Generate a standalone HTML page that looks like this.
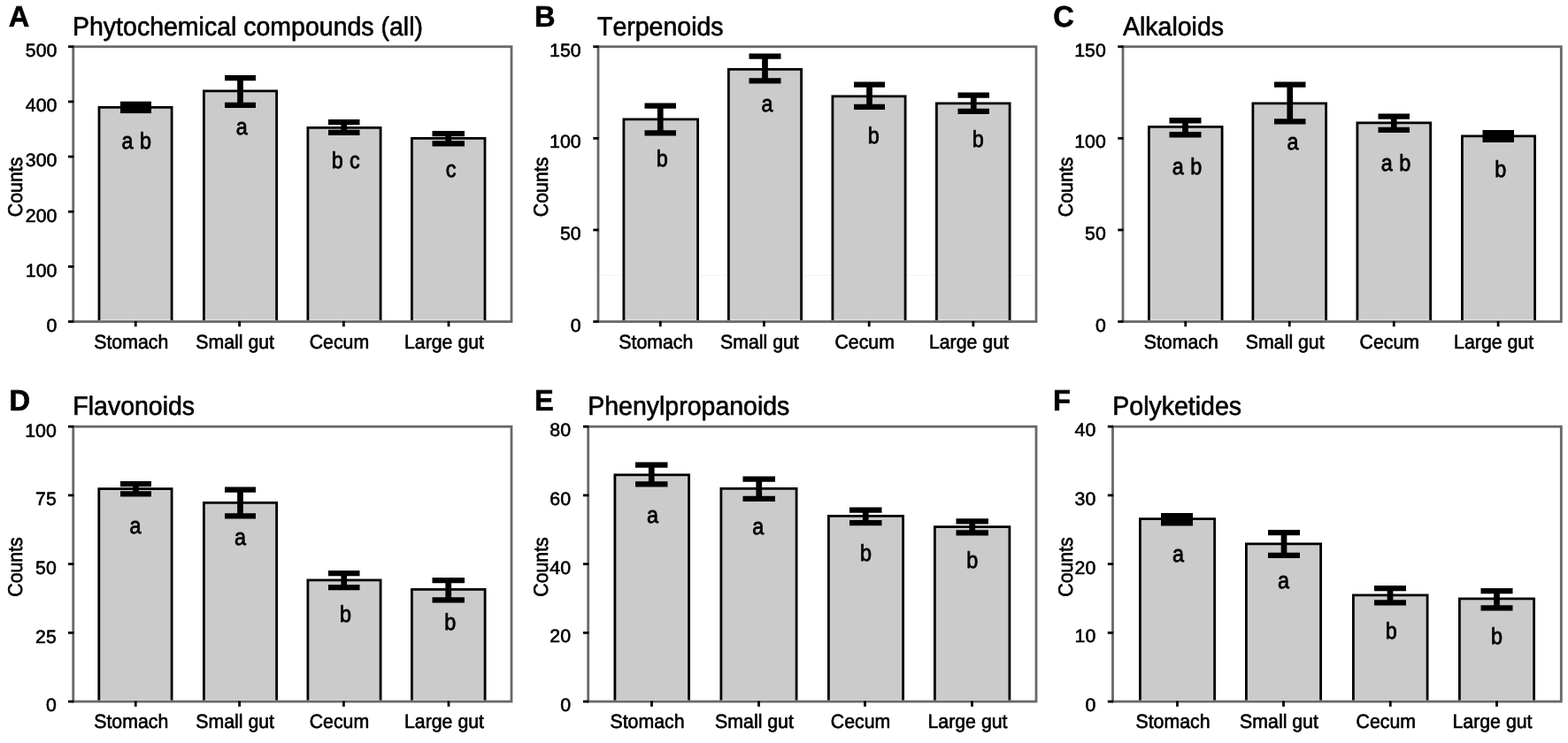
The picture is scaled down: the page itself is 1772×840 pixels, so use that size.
<!DOCTYPE html>
<html lang="en">
<head>
<meta charset="utf-8">
<title>Figure</title>
<style>
html, body { margin: 0; padding: 0; background: #ffffff; }
body { width: 1772px; height: 840px; overflow: hidden; }
svg { display: block; font-family: "Liberation Sans", sans-serif; }
.fill { fill: #cbcbcb; }
.bar { fill: none; stroke: #000; stroke-width: 2.8; stroke-linejoin: miter; }
.frame { fill: none; stroke: #696969; stroke-width: 2.8; }
.tick { stroke: #000; stroke-width: 2.8; }
.err { fill: #000; }
text { fill: #000; stroke: #000; stroke-width: 0.6px; stroke-linejoin: round; font-kerning: none; text-rendering: geometricPrecision; }
.yt { font-size: 21.3px; text-anchor: end; }
.xt { font-size: 21.3px; text-anchor: middle; }
.cnt { font-size: 21.3px; text-anchor: middle; }
.sig { font-size: 26px; text-anchor: middle; word-spacing: 1px; stroke-width: 0.8px; }
.ttl { font-size: 28.5px; }
.ltr { font-size: 32.6px; font-weight: bold; }
</style>
</head>
<body>
<svg width="1772" height="840" viewBox="0 0 1772 840" role="img">
<rect x="-10" y="-10" width="1792" height="860" fill="#ffffff"/>
<g>
<rect class="fill" x="112" y="121.4" width="82.1" height="240.1"/>
<path class="bar" d="M112 362.3V121.4H194.1V362.3"/>
<rect class="fill" x="230.4" y="102.9" width="82.2" height="258.6"/>
<path class="bar" d="M230.4 362.3V102.9H312.6V362.3"/>
<rect class="fill" x="347.9" y="144.4" width="82.2" height="217.1"/>
<path class="bar" d="M347.9 362.3V144.4H430.1V362.3"/>
<rect class="fill" x="465.4" y="156.4" width="82.6" height="205.1"/>
<path class="bar" d="M465.4 362.3V156.4H548V362.3"/>
<rect class="frame" x="82.75" y="52.75" width="495.25" height="310.85"/>
<line class="tick" x1="77.05" y1="363.6" x2="83.35" y2="363.6"/>
<text class="yt" transform="translate(64.35 374.9) scale(1 0.98)">0</text>
<line class="tick" x1="77.05" y1="301.43" x2="83.35" y2="301.43"/>
<text class="yt" transform="translate(64.35 312.73) scale(1 0.98)">100</text>
<line class="tick" x1="77.05" y1="239.26" x2="83.35" y2="239.26"/>
<text class="yt" transform="translate(64.35 250.56) scale(1 0.98)">200</text>
<line class="tick" x1="77.05" y1="177.09" x2="83.35" y2="177.09"/>
<text class="yt" transform="translate(64.35 188.39) scale(1 0.98)">300</text>
<line class="tick" x1="77.05" y1="114.92" x2="83.35" y2="114.92"/>
<text class="yt" transform="translate(64.35 126.22) scale(1 0.98)">400</text>
<line class="tick" x1="77.05" y1="52.75" x2="83.35" y2="52.75"/>
<text class="yt" transform="translate(64.35 64.05) scale(1 0.98)">500</text>
<line class="tick" x1="153.25" y1="363" x2="153.25" y2="369.3"/>
<text class="xt" transform="translate(148.25 393.6) scale(1 1.04)">Stomach</text>
<line class="tick" x1="270.6" y1="363" x2="270.6" y2="369.3"/>
<text class="xt" transform="translate(265.6 393.6) scale(1 1.04)">Small gut</text>
<line class="tick" x1="388.4" y1="363" x2="388.4" y2="369.3"/>
<text class="xt" transform="translate(383.4 393.6) scale(1 1.04)">Cecum</text>
<line class="tick" x1="507" y1="363" x2="507" y2="369.3"/>
<text class="xt" transform="translate(502 393.6) scale(1 1.04)">Large gut</text>
<rect class="err" x="136" y="114.7" width="35" height="13.4"/>
<path class="err" d="M254 85H289V91.3H274.85V115.7H289V122H254V115.7H268.15V91.3H254Z"/>
<path class="err" d="M371 135H406.5V141.3H392.1V146.7H406.5V153H371V146.7H385.4V141.3H371Z"/>
<path class="err" d="M488.5 148H525V154.3H510.1V159.2H525V165.5H488.5V159.2H503.4V154.3H488.5Z"/>
<text class="sig" transform="translate(154.2 168.1) scale(0.9 1.0)">a b</text>
<text class="sig" transform="translate(273.2 152.4) scale(0.9 1.0)">a</text>
<text class="sig" transform="translate(390.7 190) scale(0.9 1.0)">b c</text>
<text class="sig" transform="translate(509.7 200) scale(0.9 1.0)">c</text>
<text class="cnt" transform="translate(25 211.4) rotate(-90) scale(1 1.07)">Counts</text>
<text class="ttl" transform="translate(82 39.6) scale(1 1.04)">Phytochemical compounds (all)</text>
<text class="ltr" transform="translate(9.7 30.1) scale(1 1.02)">A</text>
</g>
<g>
<line x1="679" y1="311.3" x2="1168" y2="311.3" stroke="#f4f4f4" stroke-width="1.2"/>
<rect class="fill" x="704.9" y="134.9" width="83.7" height="226.6"/>
<path class="bar" d="M704.9 362.3V134.9H788.6V362.3"/>
<rect class="fill" x="823.4" y="78.4" width="82.2" height="283.1"/>
<path class="bar" d="M823.4 362.3V78.4H905.6V362.3"/>
<rect class="fill" x="940.9" y="108.9" width="82.2" height="252.6"/>
<path class="bar" d="M940.9 362.3V108.9H1023.1V362.3"/>
<rect class="fill" x="1058.4" y="116.9" width="82.7" height="244.6"/>
<path class="bar" d="M1058.4 362.3V116.9H1141.1V362.3"/>
<rect class="frame" x="676" y="52.75" width="495" height="310.85"/>
<line class="tick" x1="670.3" y1="363.6" x2="676.6" y2="363.6"/>
<text class="yt" transform="translate(656.6 374.5) scale(1 0.98)">0</text>
<line class="tick" x1="670.3" y1="259.98" x2="676.6" y2="259.98"/>
<text class="yt" transform="translate(656.6 271.18) scale(1 0.98)">50</text>
<line class="tick" x1="670.3" y1="156.37" x2="676.6" y2="156.37"/>
<text class="yt" transform="translate(656.6 166.57) scale(1 0.98)">100</text>
<line class="tick" x1="670.3" y1="52.75" x2="676.6" y2="52.75"/>
<text class="yt" transform="translate(656.6 63.55) scale(1 0.98)">150</text>
<line class="tick" x1="746.3" y1="363" x2="746.3" y2="369.3"/>
<text class="xt" transform="translate(741.3 393.6) scale(1 1.04)">Stomach</text>
<line class="tick" x1="863.4" y1="363" x2="863.4" y2="369.3"/>
<text class="xt" transform="translate(858.4 393.6) scale(1 1.04)">Small gut</text>
<line class="tick" x1="982.2" y1="363" x2="982.2" y2="369.3"/>
<text class="xt" transform="translate(977.2 393.6) scale(1 1.04)">Cecum</text>
<line class="tick" x1="1099.9" y1="363" x2="1099.9" y2="369.3"/>
<text class="xt" transform="translate(1094.9 393.6) scale(1 1.04)">Large gut</text>
<path class="err" d="M728.5 116.5H764V122.8H749.6V147.2H764V153.5H728.5V147.2H742.9V122.8H728.5Z"/>
<path class="err" d="M846.5 60.5H882.5V66.8H867.85V88.2H882.5V94.5H846.5V88.2H861.15V66.8H846.5Z"/>
<path class="err" d="M965 92.5H1000V98.8H985.85V117.7H1000V124H965V117.7H979.15V98.8H965Z"/>
<path class="err" d="M1082.5 104.5H1118V110.8H1103.6V122.7H1118V129H1082.5V122.7H1096.9V110.8H1082.5Z"/>
<text class="sig" transform="translate(748.2 188) scale(0.9 1.0)">b</text>
<text class="sig" transform="translate(867 126) scale(0.9 1.0)">a</text>
<text class="sig" transform="translate(987.2 162) scale(0.9 1.0)">b</text>
<text class="sig" transform="translate(1105.2 166) scale(0.9 1.0)">b</text>
<text class="cnt" transform="translate(618.5 211.4) rotate(-90) scale(1 1.07)">Counts</text>
<text class="ttl" transform="translate(675 39.6) scale(1 1.04)">Terpenoids</text>
<text class="ltr" transform="translate(604 29.6) scale(1 1.02)">B</text>
</g>
<g>
<rect class="fill" x="1298.4" y="143.4" width="82.7" height="218.1"/>
<path class="bar" d="M1298.4 362.3V143.4H1381.1V362.3"/>
<rect class="fill" x="1415.9" y="116.9" width="82.7" height="244.6"/>
<path class="bar" d="M1415.9 362.3V116.9H1498.6V362.3"/>
<rect class="fill" x="1533.9" y="138.9" width="82.7" height="222.6"/>
<path class="bar" d="M1533.9 362.3V138.9H1616.6V362.3"/>
<rect class="fill" x="1652.4" y="153.9" width="82.2" height="207.6"/>
<path class="bar" d="M1652.4 362.3V153.9H1734.6V362.3"/>
<rect class="frame" x="1269" y="52.75" width="495.3" height="310.85"/>
<line class="tick" x1="1263.3" y1="363.6" x2="1269.6" y2="363.6"/>
<text class="yt" transform="translate(1249.8 374.5) scale(1 0.98)">0</text>
<line class="tick" x1="1263.3" y1="259.98" x2="1269.6" y2="259.98"/>
<text class="yt" transform="translate(1249.8 271.18) scale(1 0.98)">50</text>
<line class="tick" x1="1263.3" y1="156.37" x2="1269.6" y2="156.37"/>
<text class="yt" transform="translate(1249.8 166.57) scale(1 0.98)">100</text>
<line class="tick" x1="1263.3" y1="52.75" x2="1269.6" y2="52.75"/>
<text class="yt" transform="translate(1249.8 63.55) scale(1 0.98)">150</text>
<line class="tick" x1="1339.75" y1="363" x2="1339.75" y2="369.3"/>
<text class="xt" transform="translate(1334.75 393.6) scale(1 1.04)">Stomach</text>
<line class="tick" x1="1457.25" y1="363" x2="1457.25" y2="369.3"/>
<text class="xt" transform="translate(1452.25 393.6) scale(1 1.04)">Small gut</text>
<line class="tick" x1="1575.25" y1="363" x2="1575.25" y2="369.3"/>
<text class="xt" transform="translate(1570.25 393.6) scale(1 1.04)">Cecum</text>
<line class="tick" x1="1693.1" y1="363" x2="1693.1" y2="369.3"/>
<text class="xt" transform="translate(1688.1 393.6) scale(1 1.04)">Large gut</text>
<path class="err" d="M1321.5 133.1H1357.5V139.4H1342.85V149.1H1357.5V155.4H1321.5V149.1H1336.15V139.4H1321.5Z"/>
<path class="err" d="M1440 92.5H1475.5V98.8H1461.1V134.2H1475.5V140.5H1440V134.2H1454.4V98.8H1440Z"/>
<path class="err" d="M1557.5 128.5H1593V134.8H1578.6V143.7H1593V150H1557.5V143.7H1571.9V134.8H1557.5Z"/>
<rect class="err" x="1675.5" y="147" width="35.5" height="14"/>
<text class="sig" transform="translate(1341.5 196.5) scale(0.9 1.0)">a b</text>
<text class="sig" transform="translate(1461 169) scale(0.9 1.0)">a</text>
<text class="sig" transform="translate(1577.5 192.5) scale(0.9 1.0)">a b</text>
<text class="sig" transform="translate(1695.7 200) scale(0.9 1.0)">b</text>
<text class="cnt" transform="translate(1212 211.4) rotate(-90) scale(1 1.07)">Counts</text>
<text class="ttl" transform="translate(1269 39.6) scale(1 1.04)">Alkaloids</text>
<text class="ltr" transform="translate(1190.15 29.6) scale(1 1.02)">C</text>
</g>
<g>
<rect class="fill" x="111.8" y="552.6" width="82.3" height="238.4"/>
<path class="bar" d="M111.8 791.8V552.6H194.1V791.8"/>
<rect class="fill" x="230.4" y="568.4" width="82.2" height="222.6"/>
<path class="bar" d="M230.4 791.8V568.4H312.6V791.8"/>
<rect class="fill" x="347.9" y="655.9" width="82.2" height="135.1"/>
<path class="bar" d="M347.9 791.8V655.9H430.1V791.8"/>
<rect class="fill" x="465.4" y="666.4" width="82.7" height="124.6"/>
<path class="bar" d="M465.4 791.8V666.4H548.1V791.8"/>
<rect class="frame" x="82.75" y="482.25" width="495.25" height="310.85"/>
<line class="tick" x1="77.05" y1="793.1" x2="83.35" y2="793.1"/>
<text class="yt" transform="translate(63.75 804.4) scale(1 0.98)">0</text>
<line class="tick" x1="77.05" y1="715.39" x2="83.35" y2="715.39"/>
<text class="yt" transform="translate(63.75 726.69) scale(1 0.98)">25</text>
<line class="tick" x1="77.05" y1="637.67" x2="83.35" y2="637.67"/>
<text class="yt" transform="translate(63.75 648.97) scale(1 0.98)">50</text>
<line class="tick" x1="77.05" y1="559.96" x2="83.35" y2="559.96"/>
<text class="yt" transform="translate(63.75 571.26) scale(1 0.98)">75</text>
<line class="tick" x1="77.05" y1="482.25" x2="83.35" y2="482.25"/>
<text class="yt" transform="translate(63.75 493.55) scale(1 0.98)">100</text>
<line class="tick" x1="153.25" y1="792.5" x2="153.25" y2="798.8"/>
<text class="xt" transform="translate(148.25 823.1) scale(1 1.04)">Stomach</text>
<line class="tick" x1="270.6" y1="792.5" x2="270.6" y2="798.8"/>
<text class="xt" transform="translate(265.6 823.1) scale(1 1.04)">Small gut</text>
<line class="tick" x1="388.4" y1="792.5" x2="388.4" y2="798.8"/>
<text class="xt" transform="translate(383.4 823.1) scale(1 1.04)">Cecum</text>
<line class="tick" x1="507" y1="792.5" x2="507" y2="798.8"/>
<text class="xt" transform="translate(502 823.1) scale(1 1.04)">Large gut</text>
<path class="err" d="M136 544H171V550.3H156.85V555.2H171V561.5H136V555.2H150.15V550.3H136Z"/>
<path class="err" d="M254 550.5H289V556.8H274.85V580.2H289V586.5H254V580.2H268.15V556.8H254Z"/>
<path class="err" d="M371 645H406.5V651.3H392.1V661H406.5V667.3H371V661H385.4V651.3H371Z"/>
<path class="err" d="M488.5 653H525V659.3H510.1V675.2H525V681.5H488.5V675.2H503.4V659.3H488.5Z"/>
<text class="sig" transform="translate(153 602.5) scale(0.9 1.0)">a</text>
<text class="sig" transform="translate(271.5 616) scale(0.9 1.0)">a</text>
<text class="sig" transform="translate(390.5 703) scale(0.9 1.0)">b</text>
<text class="sig" transform="translate(508.7 711.5) scale(0.9 1.0)">b</text>
<text class="cnt" transform="translate(25 641) rotate(-90) scale(1 1.07)">Counts</text>
<text class="ttl" transform="translate(82.3 469.1) scale(1 1.04)">Flavonoids</text>
<text class="ltr" transform="translate(10.45 463.6) scale(1 1.02)">D</text>
</g>
<g>
<rect class="fill" x="694.9" y="536.9" width="83.7" height="254.1"/>
<path class="bar" d="M694.9 791.8V536.9H778.6V791.8"/>
<rect class="fill" x="814.9" y="552.4" width="85.2" height="238.6"/>
<path class="bar" d="M814.9 791.8V552.4H900.1V791.8"/>
<rect class="fill" x="936.4" y="583.4" width="84.2" height="207.6"/>
<path class="bar" d="M936.4 791.8V583.4H1020.6V791.8"/>
<rect class="fill" x="1056.4" y="595.6" width="84.5" height="195.4"/>
<path class="bar" d="M1056.4 791.8V595.6H1140.9V791.8"/>
<rect class="frame" x="664.7" y="482.25" width="506.3" height="310.85"/>
<line class="tick" x1="659" y1="793.1" x2="665.3" y2="793.1"/>
<text class="yt" transform="translate(645 804.1) scale(1 0.98)">0</text>
<line class="tick" x1="659" y1="715.39" x2="665.3" y2="715.39"/>
<text class="yt" transform="translate(645 726.39) scale(1 0.98)">20</text>
<line class="tick" x1="659" y1="637.67" x2="665.3" y2="637.67"/>
<text class="yt" transform="translate(645 648.67) scale(1 0.98)">40</text>
<line class="tick" x1="659" y1="559.96" x2="665.3" y2="559.96"/>
<text class="yt" transform="translate(645 570.96) scale(1 0.98)">60</text>
<line class="tick" x1="659" y1="482.25" x2="665.3" y2="482.25"/>
<text class="yt" transform="translate(645 493.25) scale(1 0.98)">80</text>
<line class="tick" x1="736.5" y1="792.5" x2="736.5" y2="798.8"/>
<text class="xt" transform="translate(731.5 823.1) scale(1 1.04)">Stomach</text>
<line class="tick" x1="857.5" y1="792.5" x2="857.5" y2="798.8"/>
<text class="xt" transform="translate(852.5 823.1) scale(1 1.04)">Small gut</text>
<line class="tick" x1="977.5" y1="792.5" x2="977.5" y2="798.8"/>
<text class="xt" transform="translate(972.5 823.1) scale(1 1.04)">Cecum</text>
<line class="tick" x1="1098.5" y1="792.5" x2="1098.5" y2="798.8"/>
<text class="xt" transform="translate(1093.5 823.1) scale(1 1.04)">Large gut</text>
<path class="err" d="M718 522.5H754.5V528.8H739.6V544.2H754.5V550.5H718V544.2H732.9V528.8H718Z"/>
<path class="err" d="M839.5 538.5H876V544.8H861.1V560.7H876V567H839.5V560.7H854.4V544.8H839.5Z"/>
<path class="err" d="M960 573.5H996.5V579.8H981.6V588H996.5V594.3H960V588H974.9V579.8H960Z"/>
<path class="err" d="M1080.5 586.2H1117V592.5H1102.1V599.2H1117V605.5H1080.5V599.2H1095.4V592.5H1080.5Z"/>
<text class="sig" transform="translate(737.5 591) scale(0.9 1.0)">a</text>
<text class="sig" transform="translate(856.7 604) scale(0.9 1.0)">a</text>
<text class="sig" transform="translate(978.5 634) scale(0.9 1.0)">b</text>
<text class="sig" transform="translate(1098.7 641.5) scale(0.9 1.0)">b</text>
<text class="cnt" transform="translate(618.5 641) rotate(-90) scale(1 1.07)">Counts</text>
<text class="ttl" transform="translate(664.2 469.1) scale(1 1.04)">Phenylpropanoids</text>
<text class="ltr" transform="translate(603.9 463.8) scale(1 1.02)">E</text>
</g>
<g>
<rect class="fill" x="1288.4" y="586.7" width="84.2" height="204.3"/>
<path class="bar" d="M1288.4 791.8V586.7H1372.6V791.8"/>
<rect class="fill" x="1408.4" y="614.9" width="84.2" height="176.1"/>
<path class="bar" d="M1408.4 791.8V614.9H1492.6V791.8"/>
<rect class="fill" x="1529.4" y="672.9" width="83.7" height="118.1"/>
<path class="bar" d="M1529.4 791.8V672.9H1613.1V791.8"/>
<rect class="fill" x="1649.4" y="676.9" width="84.2" height="114.1"/>
<path class="bar" d="M1649.4 791.8V676.9H1733.6V791.8"/>
<rect class="frame" x="1257.5" y="482.25" width="506.8" height="310.85"/>
<line class="tick" x1="1251.8" y1="793.1" x2="1258.1" y2="793.1"/>
<text class="yt" transform="translate(1238.25 804.1) scale(1 0.98)">0</text>
<line class="tick" x1="1251.8" y1="715.39" x2="1258.1" y2="715.39"/>
<text class="yt" transform="translate(1238.25 726.39) scale(1 0.98)">10</text>
<line class="tick" x1="1251.8" y1="637.67" x2="1258.1" y2="637.67"/>
<text class="yt" transform="translate(1238.25 648.67) scale(1 0.98)">20</text>
<line class="tick" x1="1251.8" y1="559.96" x2="1258.1" y2="559.96"/>
<text class="yt" transform="translate(1238.25 570.96) scale(1 0.98)">30</text>
<line class="tick" x1="1251.8" y1="482.25" x2="1258.1" y2="482.25"/>
<text class="yt" transform="translate(1238.25 493.25) scale(1 0.98)">40</text>
<line class="tick" x1="1330.5" y1="792.5" x2="1330.5" y2="798.8"/>
<text class="xt" transform="translate(1325.5 823.1) scale(1 1.04)">Stomach</text>
<line class="tick" x1="1450.5" y1="792.5" x2="1450.5" y2="798.8"/>
<text class="xt" transform="translate(1445.5 823.1) scale(1 1.04)">Small gut</text>
<line class="tick" x1="1571.25" y1="792.5" x2="1571.25" y2="798.8"/>
<text class="xt" transform="translate(1566.25 823.1) scale(1 1.04)">Cecum</text>
<line class="tick" x1="1691.5" y1="792.5" x2="1691.5" y2="798.8"/>
<text class="xt" transform="translate(1686.5 823.1) scale(1 1.04)">Large gut</text>
<rect class="err" x="1312" y="580" width="36" height="14.5"/>
<path class="err" d="M1433 599H1469V605.3H1454.35V624.7H1469V631H1433V624.7H1447.65V605.3H1433Z"/>
<path class="err" d="M1553 662H1589V668.3H1574.35V678.2H1589V684.5H1553V678.2H1567.65V668.3H1553Z"/>
<path class="err" d="M1673.5 665H1709.5V671.3H1694.85V684.2H1709.5V690.5H1673.5V684.2H1688.15V671.3H1673.5Z"/>
<text class="sig" transform="translate(1331.5 634.5) scale(0.9 1.0)">a</text>
<text class="sig" transform="translate(1450.5 665) scale(0.9 1.0)">a</text>
<text class="sig" transform="translate(1572.2 722) scale(0.9 1.0)">b</text>
<text class="sig" transform="translate(1691.5 728) scale(0.9 1.0)">b</text>
<text class="cnt" transform="translate(1212 641) rotate(-90) scale(1 1.07)">Counts</text>
<text class="ttl" transform="translate(1257.3 469.1) scale(1 1.04)">Polyketides</text>
<text class="ltr" transform="translate(1190.1 463.8) scale(1 1.02)">F</text>
</g>
</svg>
</body>
</html>
